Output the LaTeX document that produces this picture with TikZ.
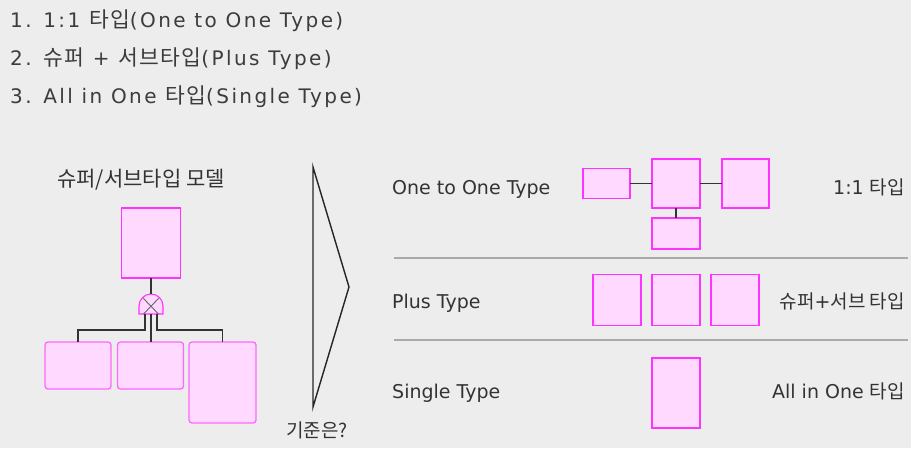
\documentclass[tikz,border=0pt]{standalone}
\usepackage{fontspec}
\setmainfont{DejaVu Sans}
\newfontfamily\kr{Noto Sans CJK KR}
\newfontfamily\hlat[LetterSpace=12]{DejaVu Sans}
\newfontfamily\hkr[LetterSpace=6]{Noto Sans CJK KR}
\newcommand\krs[1]{{\kr\fontsize{19}{22}\selectfont #1}}
\newcommand\hks[1]{{\hkr\fontsize{21.5}{24}\selectfont #1}}
\definecolor{bgc}{HTML}{EDEDED}
\definecolor{pinkF}{HTML}{FFD9FF}
\definecolor{magB}{HTML}{FF33FF}
\definecolor{magL}{HTML}{FF66FF}
\definecolor{txt}{HTML}{333333}
\definecolor{hdr}{HTML}{3C3C3C}
\definecolor{sepc}{HTML}{AAAAAA}
\begin{document}
\begin{tikzpicture}[x=1pt,y=-1pt,
  ent/.style={draw=magB, fill=pinkF, line width=1.3pt, inner sep=0pt, outer sep=0pt},
  rent/.style={ent, draw=magL, rounded corners=3pt},
  conn/.style={draw=txt, line width=1.2pt},
  sepl/.style={draw=sepc, line width=1.4pt},
  hdrtxt/.style={text=hdr, inner sep=0pt, font=\fontsize{20}{24}\selectfont},
  lab/.style={text=txt, inner sep=0pt, font=\fontsize{19}{22}\selectfont},
  krlab/.style={text=txt, inner sep=0pt, font=\kr\fontsize{21}{24}\selectfont}]
\useasboundingbox[fill=bgc] (0,0) rectangle (911,448);

% header
\node[hdrtxt, anchor=base west] (h1) at (10,27) {\hlat 1. 1:1 \hks{타입}(One to One Type)};
\node[hdrtxt, anchor=base west] (h2) at (10,65) {\hlat 2. \hks{슈퍼} + \hks{서브타입}(Plus Type)};
\node[hdrtxt, anchor=base west] (h3) at (10,103) {\hlat 3. All in One \hks{타입}(Single Type)};

% left model
\node[krlab, anchor=base west] (title) at (57,186) {슈퍼/서브타입 모델};
\node[ent, minimum width=59pt, minimum height=70pt] (sup) at (151,243) {};
\coordinate (arcT) at (151,294);
\draw[draw=magB, fill=pinkF, line width=1.1pt] (139,314) -- (139,306) arc[start angle=180, end angle=0, radius=12pt] -- (163,314) -- cycle;
\draw[draw=black!60, line width=0.9pt] (143.3,298.3) -- (158.5,314);
\draw[draw=black!60, line width=0.9pt] (158.7,298.3) -- (143.5,314);
\coordinate (aL) at (145,314);
\coordinate (aM) at (151,314);
\coordinate (aR) at (157,314);
\node[rent, minimum width=66pt, minimum height=47pt] (b1) at (78,365.5) {};
\node[rent, minimum width=66pt, minimum height=47pt] (b2) at (150.5,365.5) {};
\node[rent, minimum width=67pt, minimum height=81pt] (b3) at (222.5,382.5) {};
\draw[conn] (sup.south) -- (arcT);
\draw[conn] (aL) -- ++(0,16) -| (b1.north);
\draw[conn] (aM) -- (aM |- b2.north);
\draw[conn] (aR) -- ++(0,16) -| (b3.north);

% triangle
\draw[draw=black!85, line width=1.4pt] (313,167) -- (349,287) -- (313,407) -- cycle;
\node[krlab, font=\kr\fontsize{19}{22}\selectfont, anchor=base] (q) at (317,437) {기준은?};

% separators
\draw[sepl] (394,258) -- (908,258);
\draw[sepl] (394,340) -- (908,340);

% row 1
\node[lab, anchor=base west] (t1) at (392,194) {One to One Type};
\node[ent, minimum width=47pt, minimum height=30pt] (o1) at (606.5,183.5) {};
\node[ent, minimum width=48pt, minimum height=49pt] (o2) at (676,183.5) {};
\node[ent, minimum width=47pt, minimum height=49pt] (o3) at (745.5,183.5) {};
\node[ent, minimum width=48pt, minimum height=31pt] (o4) at (676,233.5) {};
\draw[conn] (o1.east) -- (o2.west);
\draw[conn] (o2.east) -- (o3.west);
\draw[conn] (o2.south) -- (o4.north);
\node[lab, anchor=base east] (k1) at (905,194) {1:1 \krs{타입}};

% row 2
\node[lab, anchor=base west] (t2) at (392,308) {Plus Type};
\node[ent, minimum width=48pt, minimum height=51pt] (p1) at (617,300) {};
\node[ent, minimum width=48pt, minimum height=51pt] (p2) at (676,300) {};
\node[ent, minimum width=48pt, minimum height=51pt] (p3) at (735,300) {};
\node[lab, anchor=base east] (k2) at (905,308) {\krs{슈퍼}+\krs{서브 타입}};

% row 3
\node[lab, anchor=base west] (t3) at (392,398) {Single Type};
\node[ent, minimum width=48pt, minimum height=70pt] (s1) at (676,393) {};
\node[lab, anchor=base east] (k3) at (905,398) {All in One \krs{타입}};
\end{tikzpicture}
\end{document}
